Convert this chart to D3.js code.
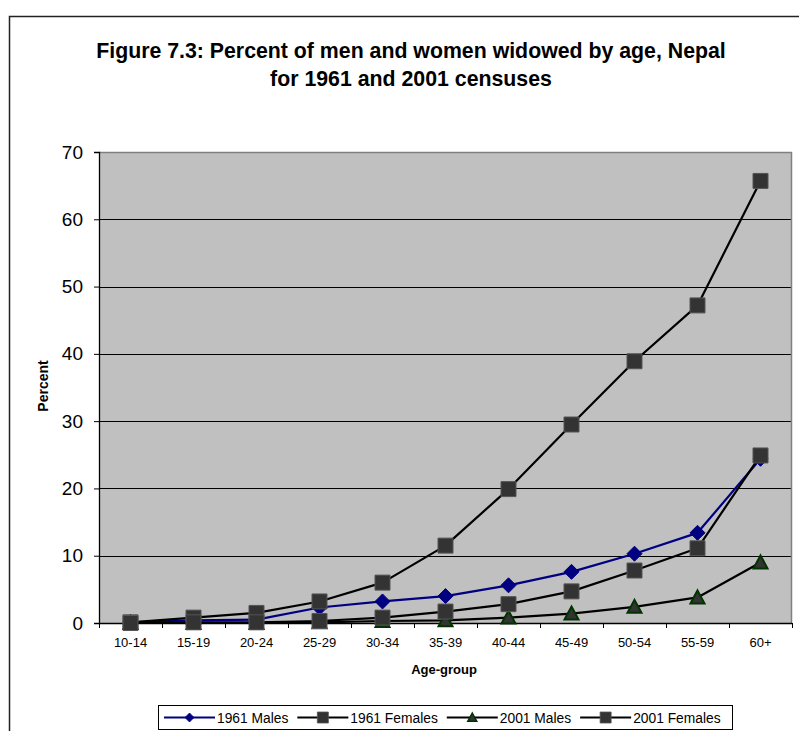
<!DOCTYPE html>
<html>
<head>
<meta charset="utf-8">
<script src="https://cdn.jsdelivr.net/npm/d3@7/dist/d3.min.js"></script>
<style>
  html, body { margin: 0; padding: 0; background: #ffffff; }
  svg { display: block; font-family: "Liberation Sans", Arial, sans-serif; }
</style>
</head>
<body>
<svg id="chart" width="799" height="731"></svg>
<script>
// Age groups on the x axis
const ageGroups = ["10-14", "15-19", "20-24", "25-29", "30-34", "35-39", "40-44", "45-49", "50-54", "55-59", "60+"];

// Percent widowed, by census year and sex
const males1961   = [0.1, 0.4, 0.5, 2.3, 3.2, 4.0, 5.6, 7.6, 10.3, 13.4, 24.4];
const females1961 = [0.1, 0.8, 1.5, 3.2, 6.0, 11.5, 19.9, 29.5, 38.9, 47.2, 65.7];
const males2001   = [0.0, 0.0, 0.0, 0.1, 0.3, 0.4, 0.8, 1.4, 2.4, 3.8, 9.0];
const females2001 = [0.0, 0.1, 0.1, 0.3, 0.8, 1.7, 2.8, 4.7, 7.8, 11.1, 24.9];

const yTicks = [0, 10, 20, 30, 40, 50, 60, 70];

const series = [
  { name: "1961 Males",   values: males1961,   line: "#000080", marker: "diamond",  fill: "#000080", stroke: "#000080" },
  { name: "1961 Females", values: females1961, line: "#000000", marker: "square",   fill: "#333333", stroke: "#555555" },
  { name: "2001 Males",   values: males2001,   line: "#000000", marker: "triangle", fill: "#333333", stroke: "#003300" },
  { name: "2001 Females", values: females2001, line: "#000000", marker: "square",   fill: "#333333", stroke: "#555555" }
];

const svg = d3.select("#chart");

// Outer chart frame
svg.append("rect")
  .attr("x", 9.5).attr("y", 16.5)
  .attr("width", 820).attr("height", 760)
  .attr("fill", "#ffffff").attr("stroke", "#222222").attr("stroke-width", 1.5);

// Title
const title = svg.append("text")
  .attr("x", 411).attr("y", 58)
  .attr("text-anchor", "middle")
  .attr("font-size", 21.3).attr("font-weight", "bold").attr("fill", "#000");
title.append("tspan").attr("x", 411).attr("dy", 0).text("Figure 7.3: Percent of men and women widowed by age, Nepal");
title.append("tspan").attr("x", 411).attr("dy", 27.5).text("for 1961 and 2001 censuses");

// Plot area
const plot = { left: 99, top: 152, right: 792, bottom: 623 };

const x = d3.scaleBand().domain(ageGroups).range([plot.left, plot.right]).padding(0);
const y = d3.scaleLinear().domain([0, 70]).range([plot.bottom, plot.top]);

svg.append("rect")
  .attr("x", plot.left).attr("y", plot.top)
  .attr("width", plot.right - plot.left).attr("height", plot.bottom - plot.top)
  .attr("fill", "#c0c0c0");

// Horizontal gridlines
svg.append("g")
  .selectAll("line")
  .data(yTicks.filter(t => t > 0 && t < 70))
  .join("line")
  .attr("x1", plot.left).attr("x2", plot.right)
  .attr("y1", d => Math.round(y(d)) + 0.5).attr("y2", d => Math.round(y(d)) + 0.5)
  .attr("stroke", "#000").attr("stroke-width", 1);

// Plot border (top and right in gray)
svg.append("path")
  .attr("d", `M${plot.left},${plot.top + 0.5}H${plot.right - 0.5}V${plot.bottom}`)
  .attr("fill", "none").attr("stroke", "#808080").attr("stroke-width", 1.5);

// Y axis
const yAxis = d3.axisLeft(y).tickValues(yTicks).tickSize(5).tickPadding(11).tickFormat(d3.format("d"));
const gy = svg.append("g").attr("transform", `translate(${plot.left},0)`).call(yAxis);
gy.select(".domain").attr("stroke", "#000").attr("stroke-width", 1.3);
gy.selectAll(".tick line").attr("stroke", "#000");
gy.selectAll(".tick text").attr("font-size", 19).attr("fill", "#000")
  .attr("font-family", "'Liberation Sans', Arial, sans-serif");

// X axis: labels centered in bands, tick marks at band boundaries
const xAxis = d3.axisBottom(x).tickSize(0).tickPadding(15);
const gx = svg.append("g").attr("transform", `translate(0,${plot.bottom})`).call(xAxis);
gx.select(".domain").remove();
gx.selectAll(".tick text").attr("font-size", 13).attr("fill", "#000")
  .attr("font-family", "'Liberation Sans', Arial, sans-serif");
gx.append("line")
  .attr("x1", plot.left).attr("x2", plot.right)
  .attr("y1", 0.5).attr("y2", 0.5)
  .attr("stroke", "#000").attr("stroke-width", 1.3);
const boundaries = ageGroups.map(g => x(g)).concat([x(ageGroups[ageGroups.length - 1]) + x.bandwidth()]);
gx.selectAll("line.bt")
  .data(boundaries)
  .join("line")
  .attr("class", "bt")
  .attr("x1", d => Math.round(d) + 0.5).attr("x2", d => Math.round(d) + 0.5)
  .attr("y1", 0).attr("y2", 5)
  .attr("stroke", "#000");

// Axis titles
svg.append("text")
  .attr("x", 444).attr("y", 674)
  .attr("text-anchor", "middle")
  .attr("font-size", 13).attr("font-weight", "bold")
  .text("Age-group");

svg.append("text")
  .attr("transform", "translate(47.5,386) rotate(-90)")
  .attr("text-anchor", "middle")
  .attr("font-size", 14).attr("font-weight", "bold")
  .text("Percent");

// Marker shapes
function markerPath(type, size) {
  const h = size / 2;
  if (type === "diamond") return `M0,${-h}L${h},0L0,${h}L${-h},0Z`;
  if (type === "triangle") return `M0,${-h}L${h},${h * 0.85}L${-h},${h * 0.85}Z`;
  return `M${-h},${-h}H${h}V${h}H${-h}Z`;
}

const line = d3.line()
  .x((d, i) => x(ageGroups[i]) + x.bandwidth() / 2)
  .y(d => y(d));

series.forEach(s => {
  const g = svg.append("g");
  g.append("path")
    .datum(s.values)
    .attr("d", line)
    .attr("fill", "none")
    .attr("stroke", s.line)
    .attr("stroke-width", 2.2)
    .attr("stroke-linejoin", "round");
  const size = s.marker === "diamond" ? 15 : (s.marker === "triangle" ? 14 : 15);
  g.selectAll("path.m")
    .data(s.values)
    .join("path")
    .attr("class", "m")
    .attr("transform", (d, i) => `translate(${x(ageGroups[i]) + x.bandwidth() / 2},${y(d)})`)
    .attr("d", markerPath(s.marker, size))
    .attr("fill", s.fill)
    .attr("stroke", s.stroke)
    .attr("stroke-width", s.marker === "triangle" ? 2 : 1);
});

// Legend
const legend = svg.append("g");
legend.append("rect")
  .attr("x", 158.5).attr("y", 705.5)
  .attr("width", 574).attr("height", 24)
  .attr("fill", "#ffffff").attr("stroke", "#000").attr("stroke-width", 1);

let lx = 164;
const ly = 717.5;
series.forEach(s => {
  const item = legend.append("g");
  item.append("line")
    .attr("x1", lx).attr("x2", lx + 51)
    .attr("y1", ly).attr("y2", ly)
    .attr("stroke", s.line).attr("stroke-width", 2);
  item.append("path")
    .attr("transform", `translate(${lx + 25.5},${ly})`)
    .attr("d", markerPath(s.marker, s.marker === "diamond" ? 9 : (s.marker === "triangle" ? 9 : 11)))
    .attr("fill", s.fill)
    .attr("stroke", s.stroke)
    .attr("stroke-width", s.marker === "triangle" ? 1.5 : 0.8);
  const t = item.append("text")
    .attr("x", lx + 53).attr("y", ly + 5)
    .attr("font-size", 13.8).attr("fill", "#000")
    .text(s.name);
  lx = lx + 53 + t.node().getComputedTextLength() + 9;
});
</script>
</body>
</html>
